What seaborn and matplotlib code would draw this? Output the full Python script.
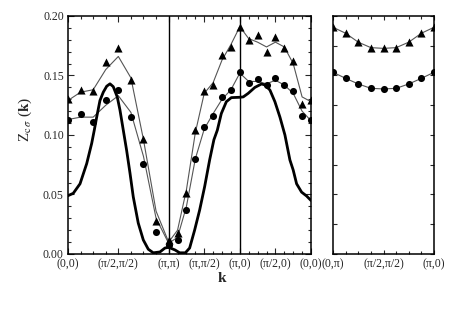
import numpy as np
import pandas as pd
import matplotlib
matplotlib.use("Agg")
import matplotlib.pyplot as plt
from matplotlib.ticker import FixedLocator, MultipleLocator, NullFormatter
import seaborn as sns

STEPS = 8  # k-points per high-symmetry segment (step pi/8)

# path (0,0) -> (pi,pi) -> (pi,0) -> (0,0), in units of pi
MAIN_CORNERS = [(0, 0), (1, 1), (1, 0), (0, 0)]
SIDE_CORNERS = [(0, 1), (1, 0)]

main_labels = ["(0,0)", "(π/2,π/2)", "(π,π)", "(π,π/2)", "(π,0)", "(π/2,0)", "(0,0)"]
side_labels = ["(0,π)", "(π/2,π/2)", "(π,0)"]

# triangles (upper data set) and its smooth fit
tri_vals = [0.130, 0.138, 0.137, 0.161, 0.173, 0.146, 0.097, 0.028, 0.012,
            0.0174, 0.0515, 0.104, 0.137, 0.142, 0.167, 0.174, 0.191,
            0.180, 0.184, 0.170, 0.182, 0.173, 0.162, 0.126, 0.129]
tri_fit = [0.129, 0.136, 0.138, 0.155, 0.166, 0.148, 0.096, 0.036, 0.010,
           0.020, 0.054, 0.102, 0.135, 0.144, 0.163, 0.176, 0.191,
           0.181, 0.178, 0.174, 0.178, 0.174, 0.160, 0.132, 0.128]

# circles (lower data set) and its smooth fit
dot_vals = [0.113, 0.118, 0.111, 0.129, 0.138, 0.115, 0.0754, 0.0188, 0.0072,
            0.0118, 0.037, 0.080, 0.107, 0.116, 0.132, 0.138, 0.1527,
            0.1434, 0.147, 0.142, 0.1476, 0.142, 0.137, 0.116, 0.1126]
dot_fit = [0.113, 0.115, 0.115, 0.125, 0.133, 0.119, 0.082, 0.030, 0.009,
           0.014, 0.040, 0.080, 0.105, 0.118, 0.130, 0.138, 0.152,
           0.145, 0.145, 0.143, 0.146, 0.142, 0.135, 0.120, 0.112]

# thick curve (path distance in units of pi, value)
thick_x = [0.0, 0.074, 0.169, 0.263, 0.333, 0.369, 0.403, 0.449, 0.496, 0.544,
           0.590, 0.636, 0.692, 0.730, 0.777, 0.824, 0.871, 0.917, 0.987, 1.058,
           1.128, 1.198, 1.292, 1.362, 1.414, 1.503, 1.569, 1.649, 1.709, 1.779,
           1.850, 1.920, 1.990, 2.050, 2.098, 2.154, 2.225, 2.295, 2.414, 2.462,
           2.532, 2.626, 2.720, 2.767, 2.837, 2.907, 2.978, 3.048, 3.118, 3.164,
           3.212, 3.282, 3.353, 3.414]
thick_y = [0.049, 0.051, 0.059, 0.076, 0.093, 0.104, 0.115, 0.129, 0.136, 0.141,
           0.143, 0.1406, 0.132, 0.121, 0.104, 0.087, 0.068, 0.048, 0.026, 0.0118,
           0.004, 0.001, 0.0017, 0.005, 0.0056, 0.0034, 0.001, 0.001, 0.005, 0.020,
           0.037, 0.0566, 0.079, 0.096, 0.104, 0.118, 0.128, 0.1314, 0.1317, 0.132,
           0.135, 0.140, 0.1429, 0.142, 0.1378, 0.128, 0.115, 0.100, 0.079, 0.0706,
           0.059, 0.052, 0.0487, 0.045]

# side panel (0,pi) -> (pi,0)
side_tri = [0.1905, 0.1855, 0.178, 0.1734, 0.1728, 0.1734, 0.178, 0.1855, 0.1905]
side_dot = [0.1527, 0.1476, 0.1429, 0.1392, 0.1387, 0.1392, 0.1429, 0.1476, 0.1527]


def path_distance(corners, steps):
    corners = np.array(corners, dtype=float)
    pts = []
    for a, b in zip(corners[:-1], corners[1:]):
        for i in range(steps):
            pts.append(a + (b - a) * i / steps)
    pts.append(corners[-1])
    pts = np.array(pts)
    seg = np.hypot(*np.diff(pts, axis=0).T)
    return np.r_[0.0, np.cumsum(seg)]


def style_axes(ax, xpos, labels, ymajor, yminor=None):
    ax.set_xlim(xpos[0], xpos[-1])
    ax.set_ylim(0, 0.2)
    ax.xaxis.set_major_locator(FixedLocator(xpos[::4]))
    ax.xaxis.set_minor_locator(FixedLocator(xpos))
    ax.set_xticklabels(labels)
    ax.yaxis.set_major_locator(MultipleLocator(ymajor))
    if yminor:
        ax.yaxis.set_minor_locator(MultipleLocator(yminor))
    ax.tick_params(which="both", direction="in", top=True, right=True, width=0.8,
                   labelsize=8.5, pad=3)
    ax.tick_params(which="major", length=4)
    ax.tick_params(which="minor", length=2)
    for sp in ax.spines.values():
        sp.set_linewidth(1.1)
        sp.set_color("black")
    ax.set_xlabel("")
    ax.set_ylabel("")


sns.set_style("ticks")
plt.rcParams["font.family"] = ["Liberation Serif", "DejaVu Serif"]
plt.rcParams["mathtext.fontset"] = "stix"

x_main = path_distance(MAIN_CORNERS, STEPS)
x_side = path_distance(SIDE_CORNERS, STEPS)

main = pd.DataFrame({"x": x_main, "tri": tri_vals, "tri_fit": tri_fit,
                     "dot": dot_vals, "dot_fit": dot_fit})
thick = pd.DataFrame({"x": thick_x, "y": thick_y})
side = pd.DataFrame({"x": x_side, "tri": side_tri, "dot": side_dot})

fig = plt.figure(figsize=(4.57, 3.18), dpi=100)
ax = fig.add_axes([0.1488, 0.2013, 0.5317, 0.7484])
ax2 = fig.add_axes([0.7287, 0.2013, 0.2210, 0.7484])

line_kw = dict(color="#555555", linewidth=0.8, sort=False)
sns.lineplot(data=main, x="x", y="tri_fit", ax=ax, **line_kw)
sns.lineplot(data=main, x="x", y="dot_fit", ax=ax, **line_kw)
sns.lineplot(data=thick, x="x", y="y", ax=ax, color="black", linewidth=2.0, sort=False)
sns.scatterplot(data=main, x="x", y="tri", ax=ax, marker="^", s=34,
                color="black", edgecolor="black", linewidth=0, zorder=3)
sns.scatterplot(data=main, x="x", y="dot", ax=ax, marker="o", s=26,
                color="black", edgecolor="black", linewidth=0, zorder=3)
for k in (x_main[8], x_main[16]):
    ax.axvline(k, color="black", linewidth=1.0)
style_axes(ax, x_main, main_labels, 0.05, 0.01)
ax.yaxis.set_major_formatter(matplotlib.ticker.FormatStrFormatter("%.2f"))

sns.lineplot(data=side, x="x", y="tri", ax=ax2, **line_kw)
sns.lineplot(data=side, x="x", y="dot", ax=ax2, **line_kw)
sns.scatterplot(data=side, x="x", y="tri", ax=ax2, marker="^", s=34,
                color="black", linewidth=0, zorder=3)
sns.scatterplot(data=side, x="x", y="dot", ax=ax2, marker="o", s=26,
                color="black", linewidth=0, zorder=3)
style_axes(ax2, x_side, side_labels, 0.025)
ax2.yaxis.set_major_formatter(NullFormatter())
ax2.tick_params(which="major", length=3)

fig.text(25 / 457, 1 - 119 / 318, r"Z$_{\mathrm{c}\,\sigma}$ ($\mathbf{k}$)",
         rotation=90, ha="center", va="center", fontsize=11)
fig.text(222 / 457, 1 - 278 / 318, "k", fontweight="bold", ha="center",
         va="center", fontsize=11)

fig.savefig("out.png", dpi=100)
